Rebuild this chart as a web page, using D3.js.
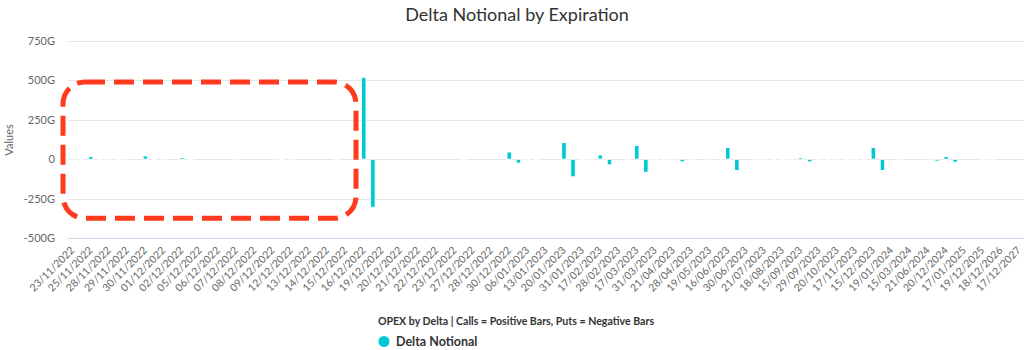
<!DOCTYPE html>
<html>
<head>
<meta charset="utf-8">
<script src="https://cdn.jsdelivr.net/npm/d3@7"></script>
<style>
  body { margin: 0; background: #fff; }
  text { font-family: Lato, "Open Sans", sans-serif; }
</style>
</head>
<body>
<div id="chart"></div>
<script>
// expiration dates (categories)
const dates = ["23/11/2022", "25/11/2022", "28/11/2022", "29/11/2022", "30/11/2022", "01/12/2022",
  "02/12/2022", "05/12/2022", "06/12/2022", "07/12/2022", "08/12/2022", "09/12/2022", "12/12/2022",
  "13/12/2022", "14/12/2022", "15/12/2022", "16/12/2022", "19/12/2022", "20/12/2022", "21/12/2022",
  "22/12/2022", "23/12/2022", "27/12/2022", "28/12/2022", "30/12/2022", "06/01/2023", "13/01/2023",
  "20/01/2023", "31/01/2023", "17/02/2023", "28/02/2023", "17/03/2023", "31/03/2023", "21/04/2023",
  "28/04/2023", "19/05/2023", "16/06/2023", "30/06/2023", "21/07/2023", "18/08/2023", "15/09/2023",
  "29/09/2023", "20/10/2023", "17/11/2023", "15/12/2023", "19/01/2024", "15/03/2024", "21/06/2024",
  "20/12/2024", "17/01/2025", "19/12/2025", "18/12/2026", "17/12/2027"];

// calls delta notional (G), positive bars
const calls = [3, 17, 0.5, 0.5, 21, 0.5, 11, 0, 0, 0.5, 0, 5, 0.5, 0, 0, 0, 520, 0, 0, 0,
  0, 0, 0, 0, 46, 0.5, 0, 106, 0.5, 27, 0, 87, 0.5, 5, 0.5, 5, 74, 0, 0.5, 0.5, 11,
  0.5, 0.5, 0.5, 74, 0, 0, 6, 17, 0, 0.5, 0, 0];

// puts delta notional (G), negative bars
const puts = [-0.5, -0.5, -0.5, 0, -4, 0, -4, 0, 0, 0, 0, -4, 0, 0, -0.5, 0, -305, 0, 0, 0,
  0, -0.5, 0, 0, -25, -0.5, 0, -112, -0.5, -36, -0.5, -83, -0.5, -17, 0, -8, -72, -0.5, -0.5, -0.5, -17,
  -0.5, -0.5, -0.5, -72, -0.5, 0, -12, -19, 0, -0.5, 0, 0];

const yTicks = [-500, -250, 0, 250, 500, 750];

const width = 1024, height = 350;
const svg = d3.select("#chart").append("svg")
  .attr("width", width).attr("height", height);

const x = d3.scaleBand().domain(dates).range([68, 68 + dates.length * 18.2]);
const sub = d3.scaleBand().domain(["calls", "puts"]).range([0, x.bandwidth()]);
const y = d3.scaleLinear().domain([-500, 750]).range([238, 41]);

// title
svg.append("text")
  .attr("x", 517).attr("y", 21)
  .attr("text-anchor", "middle")
  .attr("font-size", 18).attr("fill", "#333")
  .text("Delta Notional by Expiration");

// grid
svg.append("g").selectAll("line")
  .data(yTicks)
  .join("line")
  .attr("x1", 68).attr("x2", width)
  .attr("y1", d => Math.round(y(d)) + 0.5).attr("y2", d => Math.round(y(d)) + 0.5)
  .attr("stroke", d => d === -500 ? "#ccd6eb" : "#e6e6e6");

// y axis labels
const yAxis = d3.axisLeft(y).tickValues(yTicks).tickSize(0).tickPadding(0)
  .tickFormat(d => d === 0 ? "0" : d + "G");
svg.append("g")
  .attr("transform", "translate(55,0)")
  .call(yAxis)
  .call(g => g.select(".domain").remove())
  .call(g => g.selectAll("text").attr("font-size", 11).attr("fill", "#666")
    .attr("font-family", "Lato, sans-serif"));

svg.append("text")
  .attr("transform", "translate(13,140) rotate(-90)")
  .attr("text-anchor", "middle")
  .attr("font-size", 11).attr("fill", "#666")
  .text("Values");

// x labels
svg.append("g").selectAll("text")
  .data(dates)
  .join("text")
  .attr("transform", d => `translate(${x(d) + x.bandwidth() / 2 - 2},251) rotate(-45)`)
  .attr("text-anchor", "end")
  .attr("font-size", 10.5).attr("fill", "#666")
  .text(d => d);

// bars
const rows = dates.map((d, i) => ({ date: d, calls: calls[i], puts: puts[i] }));
const barW = 4.6;
const bars = svg.append("g");
["calls", "puts"].forEach(key => {
  bars.selectAll("rect." + key)
    .data(rows.filter(r => r[key] !== 0))
    .join("rect")
    .attr("class", key)
    .attr("x", r => x(r.date) + sub(key) + sub.bandwidth() / 2 - barW / 2)
    .attr("width", barW)
    .attr("y", r => y(Math.max(0, r[key])))
    .attr("height", r => Math.abs(y(r[key]) - y(0)))
    .attr("fill", "#00c9d3")
    .attr("stroke", "#fff")
    .attr("stroke-width", 1);
});

// red dashed highlight round the early expirations
const hx0 = x(dates[0]) - 5;
const hx1 = x(dates[15]) + 15;
svg.append("rect")
  .attr("x", hx0).attr("y", y(490))
  .attr("width", hx1 - hx0).attr("height", y(-375) - y(490))
  .attr("rx", 22).attr("ry", 22)
  .attr("fill", "none")
  .attr("stroke", "#ff3a1e")
  .attr("stroke-width", 5)
  .attr("stroke-dasharray", "20 9");

// legend
svg.append("text")
  .attr("x", 516).attr("y", 325)
  .attr("text-anchor", "middle")
  .attr("font-size", 10.6).attr("font-weight", "bold").attr("fill", "#333")
  .text("OPEX by Delta | Calls = Positive Bars, Puts = Negative Bars");

svg.append("circle")
  .attr("cx", 384).attr("cy", 341.5).attr("r", 5.5)
  .attr("fill", "#00c9d3");

svg.append("text")
  .attr("x", 396).attr("y", 346)
  .attr("font-size", 12.5).attr("font-weight", "bold").attr("fill", "#333")
  .text("Delta Notional");
</script>
</body>
</html>
